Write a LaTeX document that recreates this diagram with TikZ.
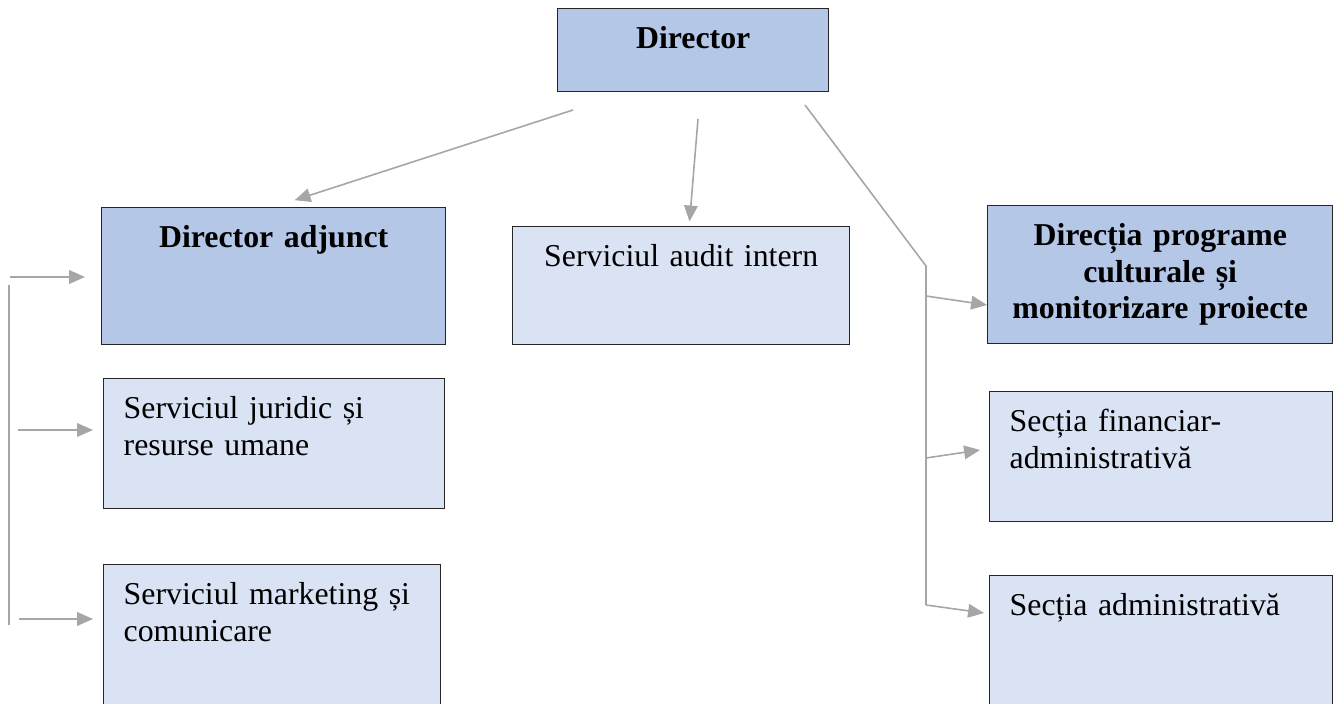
\documentclass[tikz,border=0pt]{standalone}
\usepackage{fontspec}
\setmainfont{Liberation Serif}
\usetikzlibrary{arrows.meta,calc}

\definecolor{headblue}{HTML}{B4C7E7}
\definecolor{unitblue}{HTML}{DAE3F3}
\definecolor{boxline}{HTML}{262626}
\definecolor{linkgray}{HTML}{A6A6A6}

\begin{document}
\begin{tikzpicture}[x=0.44pt, y=-0.44pt,
    orgbox/.style 2 args={draw=boxline, line width=0.6pt, anchor=north west, inner ysep=0pt,
        text height=40*0.44pt, text depth=(#2-40)*0.44pt},
    headbox/.style 2 args={orgbox={#1}{#2}, fill=headblue, inner xsep=0pt,
        text width=#1*0.44pt, align=center, font=\fontsize{14}{16.1}\selectfont\bfseries},
    unitbox/.style 2 args={orgbox={#1}{#2}, fill=unitblue, inner xsep=20*0.44pt,
        text width=(#1-40)*0.44pt, align=left, font=\fontsize{14}{16.1}\selectfont},
    link/.style={draw=linkgray, line width=0.7pt},
    arr/.style={link, -{Triangle[length=7pt, width=6pt]}}]

            \useasboundingbox (0,0) rectangle (1340,704);
            \clip (0,0) rectangle (1340,704);

            % Director
            \node[headbox={271}{83}] (dir) at (557,8) {Director};

            % First row
            \node[headbox={344}{137}] (dadj) at (101,207) {Director adjunct};
            \node[headbox={337}{118}, fill=unitblue, font=\fontsize{14}{16.1}\selectfont] (audit) at (512,226) {Serviciul audit intern};
            \node[headbox={345}{138}] (dpc) at (987,205) {Direcția programe\\culturale și\\monitorizare proiecte};

            % Services under the deputy
            \node[unitbox={341}{130}] (jur) at (103,378) {Serviciul juridic și\\resurse umane};
            \node[unitbox={337}{160}] (mkt) at (103,564) {Serviciul marketing și\\comunicare};

            % Sections on the right
            \node[unitbox={343}{130}] (fin) at (989,391) {Secția financiar-\\administrativă};
            \node[unitbox={343}{150}] (adm) at (989,575) {Secția administrativă};

            % Free ends of the connectors
            \coordinate (d1) at (573,110);
            \coordinate (d2) at (698,119);
            \coordinate (d3) at (805,105);
            \coordinate (rtop) at (926,266);
            \coordinate (rbot) at (926,605);
            \coordinate (ltop) at (9,285);
            \coordinate (lbot) at (9,625);

            % Arrows from the director
            \draw[arr, shorten >=9.7pt] (d1) -- (dadj.north); % to deputy
            \draw[arr, shorten >=2pt] (d2) -- ($(audit.north)+(8,0)$); % to audit
            \draw[link] (d3) -- (rtop) -- (rbot); % to the right bus

            % Right bus
            \draw[arr] (926,296) -- ($(dpc.north west)+(0,100)$);
            \draw[arr] (926,458) -- ($(fin.north west)+(-9,59)$);
            \draw[arr] (926,605) -- ($(adm.north west)+(-5,38)$);

            % Left bus
            \draw[link] (ltop) -- (lbot);
            \draw[arr] (10,277) -- ($(dadj.north west)+(-16,70)$);
            \draw[arr] (18,430) -- ($(jur.north west)+(-10,52)$);
            \draw[arr] (19,619) -- ($(mkt.north west)+(-10,55)$);

        \end{tikzpicture}
\end{document}
